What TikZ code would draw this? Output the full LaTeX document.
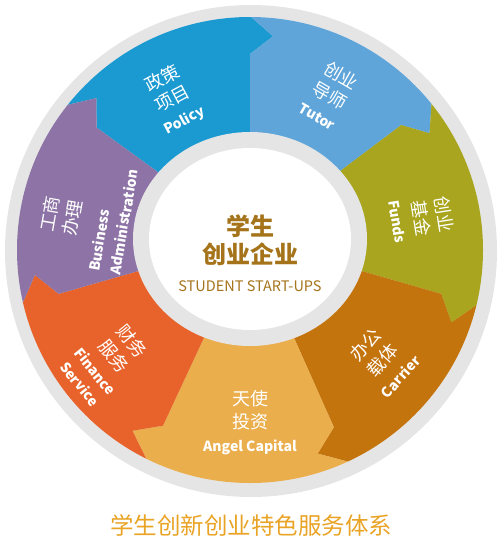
\documentclass[tikz,border=0pt]{standalone}
\usepackage{fontspec}
\newfontfamily\cjk{Noto Sans CJK SC}

\definecolor{ringgray}{RGB}{229,229,230}
\definecolor{policyblue}{RGB}{27,154,210}
\definecolor{tutorblue}{RGB}{95,165,217}
\definecolor{fundsgreen}{RGB}{169,165,31}
\definecolor{carrierorange}{RGB}{196,116,13}
\definecolor{angelyellow}{RGB}{235,174,76}
\definecolor{financeorange}{RGB}{232,99,43}
\definecolor{bizpurple}{RGB}{142,116,166}
\definecolor{textbrown}{RGB}{165,115,26}
\definecolor{titleorange}{RGB}{233,163,37}

\newcommand\seglatin[1]{{\fontsize{14}{23}\selectfont\bfseries #1}}

\tikzset{
  seglabel/.style={text=white, align=center, inner sep=0pt,
    font=\cjk\fontsize{18}{23}\selectfont},
}

\begin{document}
\begin{tikzpicture}[x=1pt,y=1pt]
    \useasboundingbox (0,0) rectangle (500,-546);

    % Draw the outer grey ring
    \fill[ringgray] (251,-251) circle (246);

    % Draw the seven coloured arrow segments
    \begin{scope}
        \clip (250,-250) circle (233);
        \begin{scope}[shift={(250,-239)}]
            \foreach \k/\a in {1/144,2/90,3/37,4/-16,5/-66,6/-115,7/-164,8/-216} {
                \pgfmathsetmacro\ro{233-11*sin(\a)}
                \pgfmathsetmacro\rmid{\ro-37}
                \pgfmathsetmacro\rtip{\ro-18}
                \pgfmathsetmacro\rrim{\ro+1}
                \pgfmathsetmacro\atip{\a-6.5}
                \coordinate (in\k) at (\a:80);
                \coordinate (mid\k) at (\a:\rmid);
                \coordinate (tip\k) at (\atip:\rtip);
                \coordinate (rim\k) at (\a:\rrim);
                \coordinate (out\k) at (\a:290);
            }
            \foreach \k/\c in {1/policyblue,2/tutorblue,3/fundsgreen,4/carrierorange,
                               5/angelyellow,6/financeorange,7/bizpurple} {
                \pgfmathtruncatemacro\n{\k+1}
                \fill[\c] (in\k) -- (mid\k) -- (tip\k) -- (rim\k) -- (out\k)
                    -- (out\n) -- (rim\n) -- (tip\n) -- (mid\n) -- (in\n) -- cycle;
            }
        \end{scope}
    \end{scope}

    % Inner grey ring and white centre
    \fill[ringgray] (250,-239) ellipse [x radius=117, y radius=107];
    \fill[white] (250,-239) ellipse [x radius=101, y radius=91];

    % Centre text
    \node[text=textbrown, align=center, inner sep=0pt,
          font=\cjk\fontsize{24}{28}\selectfont] (startup) at (250,-253)
        {{\bfseries 学生}\\{\bfseries 创业企业}\\{\fontsize{14.5}{18}\selectfont STUDENT START-UPS}};

    % Segment labels
    \node[seglabel, rotate=28] (policy) at (173,-99) {政策\\项目\\\seglatin{Policy}};
    \node[seglabel, rotate=-30] (tutor) at (330,-95) {创业\\导师\\\seglatin{Tutor}};
    \node[seglabel, rotate=-81] (funds) at (422,-218) {创业\\基金\\\seglatin{Funds}};
    \node[seglabel, rotate=48] (carrier) at (382,-360) {办公\\载体\\\seglatin{Carrier}};
    \node[seglabel] (angel) at (250,-423) {天使\\投资\\\seglatin{Angel Capital}};
    \node[seglabel, rotate=-51] (finance) at (107,-362)
        {财务\\服务\\\seglatin{Finance}\\[-3pt]\seglatin{Service}};
    \node[seglabel, rotate=80] (bizcn) at (61,-216) {工商\\办理};
    \node[seglabel, rotate=80, align=left, anchor=west] (bizen) at (104,-273)
        {\seglatin{Business}\\[-2pt]\seglatin{Administration}};

    % Title below the wheel
    \node[text=titleorange, font=\cjk\fontsize{23.5}{28}\selectfont] (title) at (251,-525)
        {学生创新创业特色服务体系};
\end{tikzpicture}
\end{document}
